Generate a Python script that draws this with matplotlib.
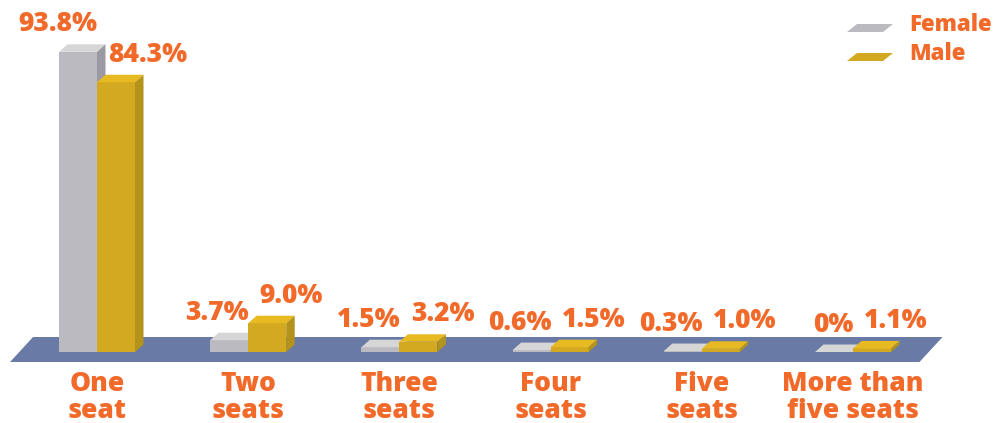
# Seat counts by gender - 3D style grouped bars
import matplotlib.pyplot as plt
from matplotlib.patches import Polygon

# Data
categories = ["One\nseat", "Two\nseats", "Three\nseats", "Four\nseats", "Five\nseats", "More than\nfive seats"]
female = [93.8, 3.7, 1.5, 0.6, 0.3, 0.0]
male = [84.3, 9.0, 3.2, 1.5, 1.0, 1.1]
female_labels = ["93.8%", "3.7%", "1.5%", "0.6%", "0.3%", "0%"]
male_labels = ["84.3%", "9.0%", "3.2%", "1.5%", "1.0%", "1.1%"]

# Colours
ORANGE = "#f26a2a"
FEMALE_C = {"front": "#bbbac0", "top": "#d6d6d6", "side": "#9b9aa4"}
MALE_C = {"front": "#d3a921", "top": "#e8ba22", "side": "#b3931b"}
FLOOR = "#6a7aa6"

FONT = ["Open Sans", "DejaVu Sans"]
WEIGHT = 800

# Pixel scale of the axes (x: px per category, y: px per percent)
PX_X = 151.2
PX_Y = 3.2
W = 38 / PX_X          # bar width in category units
DX = 8.5 / PX_X        # depth offset
DY = 7.5 / PX_Y

fig = plt.figure(figsize=(9.95, 4.23), dpi=100)
ax = fig.add_axes([0, 0, 1, 1])
ax.set_xlim(-97 / PX_X, (995 - 97) / PX_X)
ax.set_ylim(-(423 - 352) / PX_Y, 352 / PX_Y)
ax.axis("off")

# Floor
n = len(categories)
f_left, f_right = -0.575, (n - 1) + 0.44
f_top, f_bot = 15 / PX_Y, -10 / PX_Y
slant = 23 / PX_X
ax.add_patch(Polygon([(f_left, f_bot), (f_left + slant, f_top),
                      (f_right + slant, f_top), (f_right, f_bot)],
                     closed=True, color=FLOOR, lw=0, zorder=1))


def bar3d(x0, h, colors, z):
    x1 = x0 + W
    ax.add_patch(Polygon([(x0, 0), (x0, h), (x1, h), (x1, 0)],
                         closed=True, color=colors["front"], lw=0, zorder=z))
    ax.add_patch(Polygon([(x0, h), (x0 + DX, h + DY), (x1 + DX, h + DY), (x1, h)],
                         closed=True, color=colors["top"], lw=0, zorder=z))
    ax.add_patch(Polygon([(x1, 0), (x1, h), (x1 + DX, h + DY), (x1 + DX, DY)],
                         closed=True, color=colors["side"], lw=0, zorder=z))


for i in range(n):
    bar3d(i - W, female[i], FEMALE_C, 2 + 2 * i)
    bar3d(i, male[i], MALE_C, 3 + 2 * i)

    ax.text(i + 0.005, female[i] + DY + 7 / PX_Y, female_labels[i], ha="right", va="bottom",
            color=ORANGE, fontsize=19, fontweight=WEIGHT, family=FONT, zorder=20)
    ax.text(i + 0.075, male[i] + DY + 7 / PX_Y, male_labels[i], ha="left", va="bottom",
            color=ORANGE, fontsize=19, fontweight=WEIGHT, family=FONT, zorder=20)
    ax.text(i, -(397 - 352) / PX_Y, categories[i], ha="center", va="center",
            color=ORANGE, fontsize=19, fontweight=WEIGHT, family=FONT,
            linespacing=1.05, zorder=20)

# Legend (figure pixel coords)
def fig_xy(px, py):
    return (px / 995, 1 - py / 423)

for (y_top, col, name) in [(24, FEMALE_C["front"], "Female"), (53, MALE_C["front"], "Male")]:
    pts = [fig_xy(847, y_top + 8), fig_xy(857, y_top), fig_xy(893, y_top), fig_xy(883, y_top + 8)]
    fig.patches.append(Polygon(pts, closed=True, color=col, lw=0, transform=fig.transFigure))
    fig.text(*fig_xy(909, y_top + 1), name, ha="left", va="center", color=ORANGE,
             fontsize=16, fontweight=WEIGHT, family=FONT)

fig.savefig("out.png", dpi=100)
